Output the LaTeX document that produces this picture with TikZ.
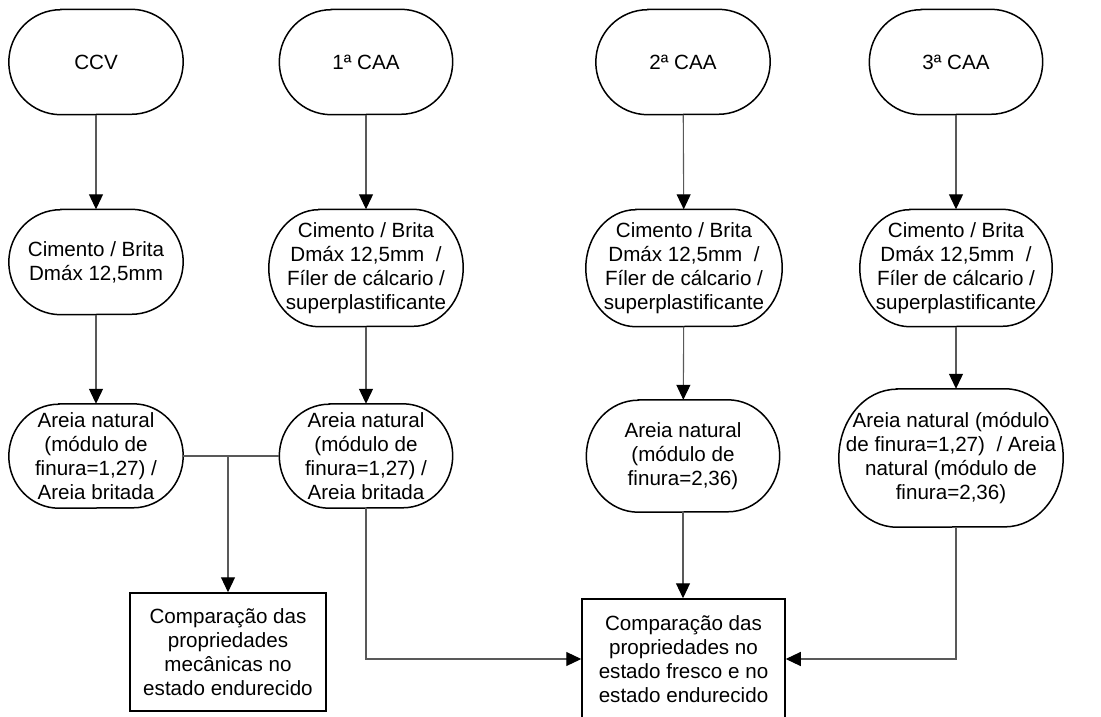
\documentclass[tikz,border=0pt]{standalone}
\usepackage{fontspec}
\setmainfont{Liberation Sans}
\usetikzlibrary{arrows.meta,positioning}
\newcommand{\stadium}[3]{%
  \draw[border] ([xshift=#2]#1.north west) -- ([xshift=-#2]#1.north east)
    arc[start angle=90,end angle=0,x radius=#2,y radius=#3]
    arc[start angle=0,end angle=-90,x radius=#2,y radius=#3]
    -- ([xshift=#2]#1.south west)
    arc[start angle=270,end angle=180,x radius=#2,y radius=#3]
    arc[start angle=180,end angle=90,x radius=#2,y radius=#3] -- cycle;}
\begin{document}
\begin{tikzpicture}[x=1pt,y=-1pt,
  txt/.style={align=center,inner sep=0pt,font=\fontsize{20.6pt}{24pt}\selectfont},
  stad/.style={txt,minimum width=#1},
  border/.style={line width=1.5pt,black},
  boxnode/.style={txt,draw,line width=1.5pt},
  conn/.style={draw=black!65,line width=1.1pt},
  arr/.style={conn,-{Triangle[width=14pt,length=15pt,color=black]}}]
\useasboundingbox (0,0) rectangle (1101,717);
% top row
\node[stad=174pt,minimum height=105pt] (t1) at (96,62) {CCV};
\node[stad=173pt,minimum height=105pt] (t2) at (366,62) {1ª CAA};
\node[stad=174pt,minimum height=105pt] (t3) at (683,62) {2ª CAA};
\node[stad=173pt,minimum height=105pt] (t4) at (956,62) {3ª CAA};
% middle row
\node[stad=174pt,minimum height=105pt] (m1) at (96,262) {Cimento / Brita\\Dmáx 12,5mm};
\node[stad=194pt,minimum height=117pt] (m2) at (366,268) {Cimento / Brita\\Dmáx 12,5mm\ \ /\\Fíler de cálcario /\\superplastificante};
\node[stad=196pt,minimum height=117pt] (m3) at (684,268) {Cimento / Brita\\Dmáx 12,5mm\ \ /\\Fíler de cálcario /\\superplastificante};
\node[stad=192pt,minimum height=117pt] (m4) at (956,268) {Cimento / Brita\\Dmáx 12,5mm\ \ /\\Fíler de cálcario /\\superplastificante};
% bottom row
\node[stad=174pt,minimum height=104pt] (b1) at (96,456) {Areia natural\\(módulo de\\finura=1,27) /\\Areia britada};
\node[stad=173pt,minimum height=104pt] (b2) at (366,456) {Areia natural\\(módulo de\\finura=1,27) /\\Areia britada};
\node[stad=193pt,minimum height=112pt] (b3) at (683,456) {Areia natural\\(módulo de\\finura=2,36)};
\node[stad=224pt,minimum height=138pt] (b4) at (951,458) {Areia natural (módulo\\de finura=1,27)\ \ / Areia\\natural (módulo de\\finura=2,36)};
% results
\node[boxnode,minimum width=196pt,minimum height=118pt] (c1) at (228,652) {Comparação das\\propriedades\\mecânicas no\\estado endurecido};
\node[boxnode,minimum width=203pt,minimum height=120pt] (c2) at (683.5,659) {Comparação das\\propriedades no\\estado fresco e no\\estado endurecido};
% borders
\stadium{t1}{52pt}{52.5pt}
\stadium{t2}{52pt}{52.5pt}
\stadium{t3}{52pt}{52.5pt}
\stadium{t4}{52pt}{52.5pt}
\stadium{m1}{52pt}{52.5pt}
\stadium{m2}{50pt}{58.5pt}
\stadium{m3}{50pt}{58.5pt}
\stadium{m4}{50pt}{58.5pt}
\stadium{b1}{50pt}{52pt}
\stadium{b2}{50pt}{52pt}
\stadium{b3}{52pt}{56pt}
\stadium{b4}{58pt}{69pt}
% connectors
\draw[arr] (t1) -- (m1);
\draw[arr] (t2) -- (m2);
\draw[arr] (t3) -- (m3);
\draw[arr] (t4) -- (m4);
\draw[arr] (m1) -- (b1);
\draw[arr] (m2) -- (b2);
\draw[arr] (m3) -- (b3);
\draw[arr] (m4.south) -- (m4.south |- b4.north);
\coordinate (j) at (228,456);
\draw[conn] (b1.east) -- (b2.west);
\draw[arr] (j) -- (c1.north);
\draw[arr] (b2.south) |- (c2.west);
\draw[arr] (b3) -- (c2.north -| b3);
\draw[arr] (b4.south -| m4.south) |- (c2.east);
\end{tikzpicture}
\end{document}
